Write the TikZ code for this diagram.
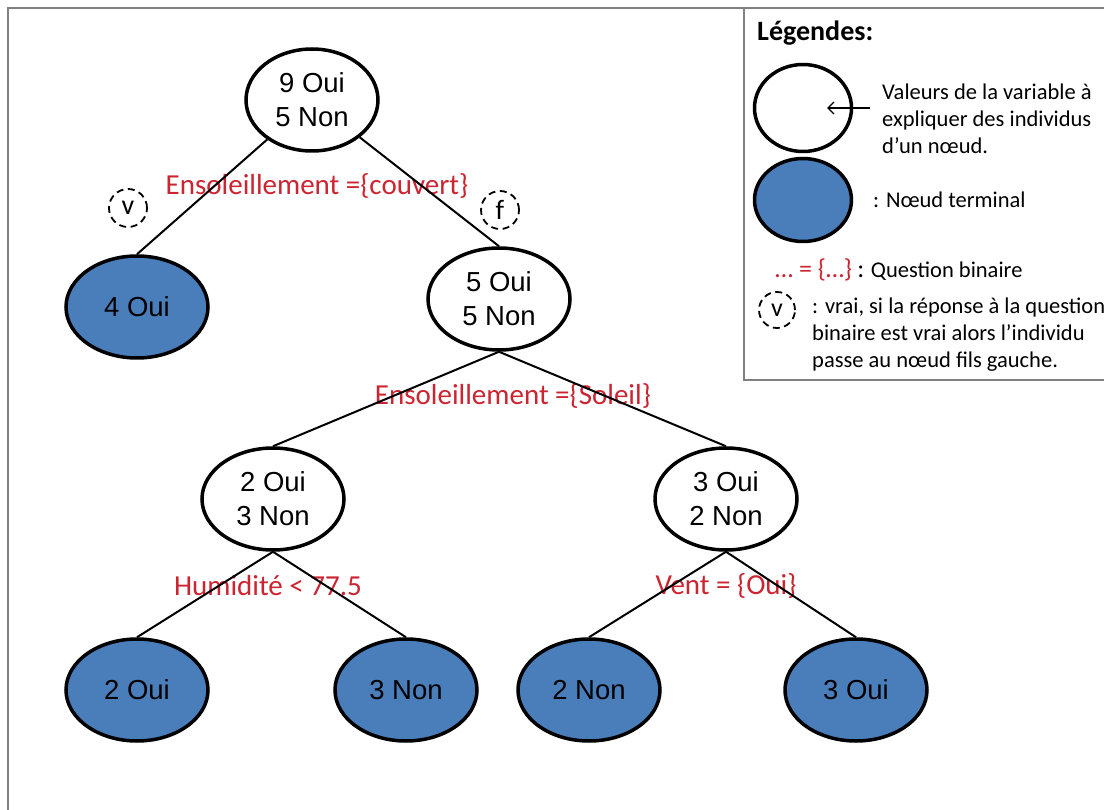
\documentclass[tikz,border=0pt]{standalone}
\usepackage{fontspec}
\setmainfont{Liberation Sans}
\newfontfamily\calibri{Carlito}
\usetikzlibrary{shapes.geometric,arrows.meta}

\definecolor{leafblue}{RGB}{74,126,187}
\definecolor{qred}{RGB}{204,36,48}
\definecolor{framegray}{RGB}{128,128,128}

\tikzset{
  noeud/.style={ellipse, draw, line width=3.5pt, minimum width=142pt, minimum height=102pt,
    inner sep=0pt, align=center, font=\fontsize{27.5}{34}\selectfont},
  feuille/.style={noeud, fill=leafblue},
  arete/.style={line width=2pt},
  question/.style={text=qred, inner sep=0pt, font=\calibri\fontsize{29}{32}\selectfont},
  reponse/.style={circle, draw, line width=1.8pt, dash pattern=on 7pt off 4.5pt,
    minimum size=38pt, inner sep=0pt, font=\calibri\fontsize{28}{28}\selectfont},
  legende/.style={anchor=west, inner sep=0pt, align=left, font=\calibri\fontsize{22.5}{27}\selectfont}
}

\begin{document}
\begin{tikzpicture}[x=1pt,y=-1pt]
  \useasboundingbox (0,0) rectangle (1104,810);

  % cadres
  \draw[framegray, line width=2pt] (8,810) -- (8,8) -- (1104,8);
  \draw[framegray, line width=2pt] (744,8) rectangle (1110,380);

  % questions binaires
  \node[question] (q1) at (317,186) {Ensoleillement =\{couvert\}};
  \node[question] (q2) at (513,396) {Ensoleillement =\{Soleil\}};
  \node[question] (q3) at (268,586) {Humidité < 77.5};
  \node[question] (q4) at (726,586) {Vent = \{Oui\}};

  % arbre
  \node[noeud, minimum width=132pt] (racine) at (312,100) {9 Oui\\5 Non};
    \node[feuille] (f1) at (137,307) {4 Oui};
    \node[noeud] (n1) at (499,299) {5 Oui\\5 Non};
      \node[noeud] (n2) at (273,499) {2 Oui\\3 Non};
        \node[feuille] (f2) at (137,690) {2 Oui};
        \node[feuille] (f3) at (406,690) {3 Non};
      \node[noeud] (n3) at (726,499) {3 Oui\\2 Non};
        \node[feuille] (f4) at (589,690) {2 Non};
        \node[feuille] (f5) at (856,690) {3 Oui};

  \draw[arete] (racine) -- (f1.north);
  \draw[arete] (racine) -- (n1.north);
  \draw[arete] (n1.south) -- (n2.north);
  \draw[arete] (n1.south) -- (n3.north);
  \draw[arete] (n2.south) -- (f2.north);
  \draw[arete] (n2.south) -- (f3.north);
  \draw[arete] (n3.south) -- (f4.north);
  \draw[arete] (n3.south) -- (f5.north);

  \node[reponse] (vrai) at (128,208) {v};
  \node[reponse] (faux) at (500,210) {f};

  % legende
  \node[anchor=west, inner sep=0pt, font=\calibri\bfseries\fontsize{28}{30}\selectfont] (titre) at (757,33) {Légendes:};
  \node[noeud, minimum width=97pt, minimum height=87pt] (lnoeud) at (803,108) {};
  \node[feuille, minimum width=97pt, minimum height=83pt] (lfeuille) at (803,200) {};
  \node[legende] (lvaleurs) at (882,119) {Valeurs de la variable à\\expliquer des individus\\d’un nœud.};
  \coordinate (fleche) at (870,108);
  \coordinate (pointe) at (827,108);
  \draw[line width=1.3pt, -{Straight Barb[length=6pt,width=12pt]}] (fleche) -- (pointe);
  \node[legende] (lterminal) at (873,200) {: Nœud terminal};
  \node[legende] (lquestion) at (775,270) {{\color{qred}\fontsize{26}{26}\selectfont \ldots{} = \{\ldots\}} {\fontsize{26}{26}\selectfont:} Question binaire};
  \node[reponse, minimum size=36pt, font=\calibri\fontsize{26}{26}\selectfont] (lvrai) at (777,310) {v};
  \node[legende] (lvraitexte) at (812,335) {: vrai, si la réponse à la question\\binaire est vrai alors l’individu\\passe au nœud fils gauche.};
\end{tikzpicture}
\end{document}
